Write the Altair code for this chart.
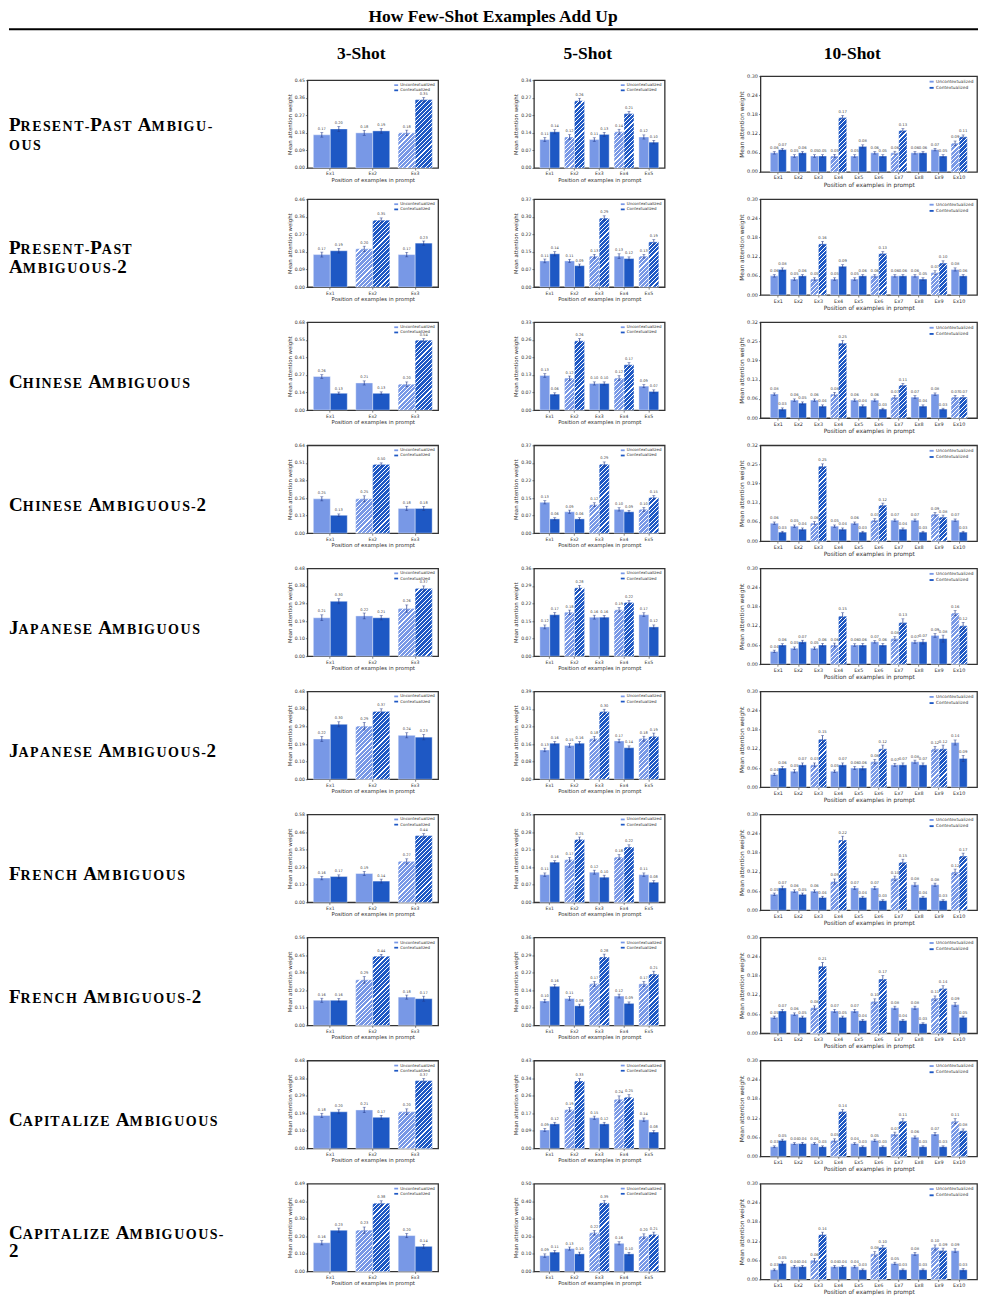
import json
import altair as alt
import pandas as pd

# ---------------------------------------------------------------- text
TITLE = "How Few-Shot Examples Add Up"
SHOT_HEADERS = ["3-Shot", "5-Shot", "10-Shot"]
SHOTS = [3, 5, 10]
ROW_LABELS = [
    ["Present-Past Ambigu-", "ous"],
    ["Present-Past", "Ambiguous-2"],
    ["Chinese Ambiguous"],
    ["Chinese Ambiguous-2"],
    ["Japanese Ambiguous"],
    ["Japanese Ambiguous-2"],
    ["French Ambiguous"],
    ["French Ambiguous-2"],
    ["Capitalize Ambiguous"],
    ["Capitalize Ambiguous-", "2"],
]
SERIES = ["Uncontextualized", "Contextualized"]
X_TITLE = "Position of examples in prompt"
Y_TITLE = "Mean attention weight"

# ---------------------------------------------------------------- 3-shot
TICKS_3 = [
    ["0.00", "0.09", "0.18", "0.27", "0.36", "0.45"],
    ["0.00", "0.09", "0.18", "0.27", "0.36", "0.46"],
    ["0.00", "0.14", "0.27", "0.41", "0.55", "0.68"],
    ["0.00", "0.13", "0.26", "0.38", "0.51", "0.64"],
    ["0.00", "0.10", "0.19", "0.29", "0.38", "0.48"],
    ["0.00", "0.10", "0.19", "0.29", "0.38", "0.48"],
    ["0.00", "0.12", "0.23", "0.35", "0.46", "0.58"],
    ["0.00", "0.11", "0.22", "0.34", "0.45", "0.56"],
    ["0.00", "0.10", "0.19", "0.29", "0.38", "0.48"],
    ["0.00", "0.10", "0.20", "0.30", "0.40", "0.49"],
]
HATCH_3 = [[3], [2], [3], [2], [3], [2], [3], [2], [3], [2]]
UNCTX_3 = [
    [0.17, 0.18, 0.18],
    [0.17, 0.20, 0.17],
    [0.26, 0.21, 0.20],
    [0.25, 0.25, 0.18],
    [0.21, 0.22, 0.26],
    [0.22, 0.29, 0.24],
    [0.16, 0.19, 0.27],
    [0.16, 0.29, 0.18],
    [0.18, 0.21, 0.20],
    [0.16, 0.23, 0.20],
]
CTX_3 = [
    [0.20, 0.19, 0.35],
    [0.19, 0.35, 0.23],
    [0.13, 0.13, 0.54],
    [0.13, 0.50, 0.18],
    [0.30, 0.21, 0.37],
    [0.30, 0.37, 0.23],
    [0.17, 0.14, 0.44],
    [0.16, 0.44, 0.17],
    [0.20, 0.17, 0.37],
    [0.23, 0.38, 0.14],
]
ERR_U_3 = [
    [0.012, 0.013, 0.014],
    [0.013, 0.014, 0.012],
    [0.014, 0.016, 0.018],
    [0.015, 0.022, 0.016],
    [0.016, 0.016, 0.020],
    [0.014, 0.021, 0.014],
    [0.012, 0.014, 0.017],
    [0.013, 0.021, 0.013],
    [0.012, 0.015, 0.016],
    [0.012, 0.018, 0.012],
]
ERR_C_3 = [
    [0.013, 0.012, 0.011],
    [0.012, 0.012, 0.011],
    [0.010, 0.011, 0.013],
    [0.010, 0.012, 0.015],
    [0.014, 0.012, 0.014],
    [0.014, 0.015, 0.015],
    [0.011, 0.013, 0.013],
    [0.011, 0.013, 0.016],
    [0.011, 0.011, 0.012],
    [0.012, 0.014, 0.011],
]

# ---------------------------------------------------------------- 5-shot
TICKS_5 = [
    ["0.00", "0.07", "0.14", "0.20", "0.27", "0.34"],
    ["0.00", "0.07", "0.15", "0.22", "0.30", "0.37"],
    ["0.00", "0.07", "0.13", "0.20", "0.26", "0.33"],
    ["0.00", "0.07", "0.15", "0.22", "0.30", "0.37"],
    ["0.00", "0.07", "0.15", "0.22", "0.29", "0.36"],
    ["0.00", "0.08", "0.16", "0.23", "0.31", "0.39"],
    ["0.00", "0.07", "0.14", "0.21", "0.28", "0.35"],
    ["0.00", "0.07", "0.14", "0.22", "0.29", "0.36"],
    ["0.00", "0.09", "0.17", "0.26", "0.34", "0.43"],
    ["0.00", "0.10", "0.20", "0.30", "0.40", "0.50"],
]
HATCH_5 = [[2, 4], [3, 5], [2, 4], [3, 5], [2, 4], [3, 5], [2, 4], [3, 5], [2, 4], [3, 5]]
UNCTX_5 = [
    [0.11, 0.12, 0.11, 0.14, 0.12],
    [0.11, 0.11, 0.13, 0.13, 0.13],
    [0.13, 0.12, 0.10, 0.12, 0.09],
    [0.13, 0.09, 0.12, 0.10, 0.10],
    [0.12, 0.18, 0.16, 0.19, 0.17],
    [0.13, 0.15, 0.18, 0.17, 0.18],
    [0.11, 0.17, 0.12, 0.18, 0.11],
    [0.10, 0.11, 0.17, 0.12, 0.17],
    [0.09, 0.19, 0.15, 0.24, 0.14],
    [0.09, 0.13, 0.22, 0.16, 0.20],
]
CTX_5 = [
    [0.14, 0.26, 0.13, 0.21, 0.10],
    [0.14, 0.09, 0.29, 0.12, 0.19],
    [0.06, 0.26, 0.10, 0.17, 0.07],
    [0.06, 0.06, 0.29, 0.09, 0.15],
    [0.17, 0.28, 0.16, 0.22, 0.12],
    [0.16, 0.16, 0.30, 0.14, 0.19],
    [0.16, 0.25, 0.10, 0.22, 0.08],
    [0.16, 0.08, 0.28, 0.09, 0.21],
    [0.12, 0.33, 0.12, 0.25, 0.08],
    [0.11, 0.10, 0.39, 0.10, 0.21],
]
ERR_U_5 = [
    [0.008, 0.009, 0.007, 0.010, 0.008],
    [0.008, 0.007, 0.008, 0.010, 0.008],
    [0.007, 0.008, 0.006, 0.009, 0.006],
    [0.007, 0.007, 0.008, 0.007, 0.008],
    [0.008, 0.009, 0.008, 0.009, 0.008],
    [0.008, 0.008, 0.010, 0.008, 0.011],
    [0.007, 0.009, 0.008, 0.010, 0.007],
    [0.007, 0.008, 0.010, 0.008, 0.010],
    [0.008, 0.010, 0.008, 0.017, 0.009],
    [0.010, 0.009, 0.013, 0.009, 0.014],
]
ERR_C_5 = [
    [0.008, 0.010, 0.008, 0.009, 0.007],
    [0.009, 0.007, 0.010, 0.007, 0.010],
    [0.005, 0.009, 0.006, 0.008, 0.006],
    [0.005, 0.005, 0.010, 0.006, 0.008],
    [0.009, 0.010, 0.007, 0.008, 0.008],
    [0.008, 0.008, 0.011, 0.008, 0.015],
    [0.006, 0.010, 0.008, 0.009, 0.006],
    [0.007, 0.007, 0.012, 0.006, 0.012],
    [0.008, 0.012, 0.008, 0.013, 0.007],
    [0.010, 0.010, 0.014, 0.009, 0.014],
]

# ---------------------------------------------------------------- 10-shot
TICKS_10 = [
    ["0.00", "0.06", "0.12", "0.18", "0.24", "0.30"],
    ["0.00", "0.06", "0.12", "0.18", "0.24", "0.30"],
    ["0.00", "0.06", "0.13", "0.19", "0.25", "0.32"],
    ["0.00", "0.06", "0.13", "0.19", "0.25", "0.32"],
    ["0.00", "0.06", "0.12", "0.18", "0.24", "0.30"],
    ["0.00", "0.06", "0.12", "0.18", "0.24", "0.30"],
    ["0.00", "0.06", "0.12", "0.18", "0.24", "0.30"],
    ["0.00", "0.06", "0.12", "0.18", "0.24", "0.30"],
    ["0.00", "0.06", "0.12", "0.18", "0.24", "0.30"],
    ["0.00", "0.06", "0.12", "0.18", "0.24", "0.30"],
]
HATCH_10 = [[4, 7, 10], [3, 6, 9], [4, 7, 10], [3, 6, 9], [4, 7, 10],
            [3, 6, 9], [4, 7, 10], [3, 6, 9], [4, 7, 10], [3, 6, 9]]
UNCTX_10 = [
    [0.06, 0.05, 0.05, 0.05, 0.05, 0.06, 0.06, 0.06, 0.07, 0.09],
    [0.06, 0.05, 0.05, 0.05, 0.05, 0.06, 0.06, 0.06, 0.07, 0.08],
    [0.08, 0.06, 0.06, 0.08, 0.06, 0.06, 0.07, 0.07, 0.08, 0.07],
    [0.06, 0.05, 0.06, 0.05, 0.06, 0.07, 0.07, 0.07, 0.09, 0.07],
    [0.04, 0.05, 0.05, 0.06, 0.06, 0.07, 0.08, 0.07, 0.09, 0.16],
    [0.04, 0.05, 0.07, 0.05, 0.06, 0.08, 0.07, 0.08, 0.12, 0.14],
    [0.05, 0.06, 0.06, 0.09, 0.07, 0.07, 0.10, 0.08, 0.08, 0.12],
    [0.05, 0.06, 0.08, 0.07, 0.07, 0.10, 0.08, 0.08, 0.11, 0.09],
    [0.03, 0.04, 0.04, 0.05, 0.04, 0.05, 0.07, 0.06, 0.07, 0.11],
    [0.03, 0.04, 0.06, 0.04, 0.04, 0.08, 0.05, 0.08, 0.10, 0.09],
]
CTX_10 = [
    [0.07, 0.06, 0.05, 0.17, 0.08, 0.05, 0.13, 0.06, 0.05, 0.11],
    [0.08, 0.06, 0.16, 0.09, 0.06, 0.13, 0.06, 0.05, 0.10, 0.06],
    [0.03, 0.05, 0.04, 0.25, 0.04, 0.03, 0.11, 0.04, 0.03, 0.07],
    [0.03, 0.04, 0.25, 0.04, 0.03, 0.12, 0.04, 0.03, 0.08, 0.03],
    [0.06, 0.07, 0.06, 0.15, 0.06, 0.06, 0.13, 0.07, 0.08, 0.12],
    [0.06, 0.07, 0.15, 0.07, 0.06, 0.12, 0.07, 0.07, 0.12, 0.09],
    [0.07, 0.05, 0.04, 0.22, 0.04, 0.03, 0.15, 0.04, 0.03, 0.17],
    [0.07, 0.05, 0.21, 0.05, 0.04, 0.17, 0.04, 0.03, 0.14, 0.05],
    [0.05, 0.04, 0.03, 0.14, 0.03, 0.03, 0.11, 0.03, 0.03, 0.08],
    [0.05, 0.04, 0.14, 0.04, 0.03, 0.10, 0.03, 0.03, 0.09, 0.03],
]
ERR_U_10 = [
    [0.004, 0.004, 0.004, 0.005, 0.004, 0.004, 0.005, 0.004, 0.004, 0.007],
    [0.004, 0.004, 0.004, 0.004, 0.004, 0.004, 0.004, 0.004, 0.006, 0.005],
    [0.004, 0.004, 0.004, 0.006, 0.004, 0.004, 0.006, 0.005, 0.004, 0.006],
    [0.004, 0.004, 0.005, 0.004, 0.004, 0.005, 0.004, 0.004, 0.006, 0.004],
    [0.004, 0.004, 0.004, 0.006, 0.004, 0.004, 0.006, 0.005, 0.006, 0.008],
    [0.004, 0.005, 0.006, 0.004, 0.005, 0.007, 0.005, 0.005, 0.008, 0.008],
    [0.004, 0.004, 0.004, 0.008, 0.005, 0.005, 0.007, 0.006, 0.005, 0.009],
    [0.004, 0.004, 0.006, 0.005, 0.005, 0.008, 0.005, 0.005, 0.007, 0.006],
    [0.003, 0.003, 0.003, 0.005, 0.003, 0.004, 0.006, 0.004, 0.005, 0.008],
    [0.003, 0.004, 0.006, 0.004, 0.004, 0.007, 0.004, 0.005, 0.008, 0.006],
]
ERR_C_10 = [
    [0.004, 0.004, 0.004, 0.007, 0.005, 0.004, 0.006, 0.004, 0.004, 0.006],
    [0.005, 0.004, 0.008, 0.005, 0.004, 0.006, 0.004, 0.004, 0.007, 0.004],
    [0.004, 0.004, 0.004, 0.009, 0.004, 0.003, 0.006, 0.004, 0.003, 0.006],
    [0.003, 0.004, 0.008, 0.004, 0.003, 0.007, 0.004, 0.003, 0.007, 0.003],
    [0.004, 0.005, 0.005, 0.011, 0.005, 0.005, 0.012, 0.007, 0.011, 0.011],
    [0.005, 0.006, 0.012, 0.006, 0.006, 0.012, 0.006, 0.006, 0.012, 0.010],
    [0.006, 0.004, 0.004, 0.012, 0.004, 0.003, 0.010, 0.004, 0.003, 0.009],
    [0.005, 0.004, 0.012, 0.004, 0.004, 0.011, 0.004, 0.003, 0.009, 0.004],
    [0.004, 0.004, 0.003, 0.007, 0.003, 0.003, 0.008, 0.003, 0.003, 0.006],
    [0.005, 0.004, 0.008, 0.004, 0.003, 0.007, 0.003, 0.003, 0.008, 0.004],
]

PANELS = {
    3: dict(ticks=TICKS_3, hatch=HATCH_3, u=UNCTX_3, c=CTX_3, eu=ERR_U_3, ec=ERR_C_3),
    5: dict(ticks=TICKS_5, hatch=HATCH_5, u=UNCTX_5, c=CTX_5, eu=ERR_U_5, ec=ERR_C_5),
    10: dict(ticks=TICKS_10, hatch=HATCH_10, u=UNCTX_10, c=CTX_10, eu=ERR_U_10, ec=ERR_C_10),
}

# ---------------------------------------------------------------- style & layout
LIGHT = "#7898E6"
DARK = "#1E58C4"
ERR_COLOR = "#22398A"
INK = "#333333"
SERIF = "Liberation Serif"
SANS = "DejaVu Sans"

LABEL_W = 203
COL_GAP = 96
ROW_GAP = 27.3
ROW_H = 96
HEADER_H = 60
HEADER_GAP = 14
PW = {3: 131, 5: 131, 10: 217}
PH = {3: 88, 5: 88, 10: 96}
FONT = {
    3: dict(tick=4.6, title=5.4, legend=4.0, value=3.6, sym=15),
    5: dict(tick=4.6, title=5.4, legend=4.0, value=3.6, sym=15),
    10: dict(tick=4.9, title=5.9, legend=4.3, value=3.8, sym=17),
}
HEADER_SHIFT = {3: 11.5, 5: 11.5, 10: 16.5}

# Times-Bold advance widths (per 1000 em) for the small-caps row labels
TIMES_BOLD = {
    "A": 722, "B": 667, "C": 722, "D": 722, "E": 667, "F": 611, "G": 778, "H": 778,
    "I": 389, "J": 500, "K": 778, "L": 667, "M": 944, "N": 722, "O": 778, "P": 611,
    "Q": 778, "R": 722, "S": 556, "T": 667, "U": 722, "V": 722, "W": 1000, "X": 722,
    "Y": 722, "Z": 667, "-": 333, " ": 250, "2": 500,
}
CAP_SIZE = 19
SC_SIZE = 14
SC_TRACK = 1.15


def hatch_fill(color, w, h, period=4.3, line=1.1):
    """Diagonal '/' stripes as a hard-stop linear gradient in bounding-box units."""
    L = w + h
    k = L / (w * w + h * h)
    stops = []
    s = 0.0
    while s < L - 1e-6:
        a = round(s / L, 5)
        b = round(min(s + line, L) / L, 5)
        e = round(min(s + period, L) / L, 5)
        stops += [
            {"offset": a, "color": "white"},
            {"offset": b, "color": "white"},
            {"offset": b, "color": color},
            {"offset": e, "color": color},
        ]
        s += period
    return {"gradient": "linear", "x1": 0, "y1": 0,
            "x2": round(w * k, 5), "y2": round(h * k, 5), "stops": stops}


def panel(ri, shot):
    p = PANELS[shot]
    ticks = p["ticks"][ri]
    ymax = float(ticks[-1])
    n = shot
    W, H = PW[shot], PH[shot]
    f = FONT[shot]
    po = 0.05 * (n - 0.2)
    exs = [f"Ex{i + 1}" for i in range(n)]
    u, c = p["u"][ri], p["c"][ri]
    eu, ec = p["eu"][ri], p["ec"][ri]

    recs = []
    for i, ex in enumerate(exs):
        for s, v, e in ((SERIES[0], u[i], eu[i]), (SERIES[1], c[i], ec[i])):
            recs.append({"ex": ex, "series": s, "v": v, "lo": v - e, "hi": v + e,
                         "lbl": f"{v:.2f}", "key": f"{ex}|{s}"})
    df = pd.DataFrame(recs)

    step = ymax / 5
    tick_vals = [round(step * i, 6) for i in range(6)]
    label_expr = f"{json.dumps(ticks)}[round(datum.value / {step})]"

    x = alt.X("ex:N", sort=exs,
              scale=alt.Scale(paddingInner=0.2, paddingOuter=po),
              axis=alt.Axis(title=X_TITLE, labelAngle=0, labelFontSize=f["tick"],
                            titleFontSize=f["title"], tickSize=2, labelPadding=1,
                            titlePadding=1.5))
    xo = alt.XOffset("series:N", sort=SERIES,
                     scale=alt.Scale(paddingInner=0, paddingOuter=0))
    yscale = alt.Scale(domain=[0, ymax], nice=False, zero=True)
    yaxis = alt.Axis(title=Y_TITLE, values=tick_vals, labelExpr=label_expr,
                     labelFontSize=f["tick"], titleFontSize=f["title"], tickSize=2,
                     labelPadding=1, titlePadding=2)

    base = alt.Chart(df).encode(x=x, xOffset=xo)

    bars = base.mark_bar(stroke="white", strokeWidth=0.4).encode(
        y=alt.Y("v:Q", scale=yscale, axis=yaxis),
        color=alt.Color(
            "series:N", sort=SERIES,
            scale=alt.Scale(domain=SERIES, range=[LIGHT, DARK]),
            legend=alt.Legend(
                title=None, orient="top-right", offset=2, padding=1,
                labelFontSize=f["legend"], labelFont=SANS, labelColor=INK,
                labelOffset=2, rowPadding=1.2,
                symbolType="M-1,-0.45L1,-0.45L1,0.45L-1,0.45Z",
                symbolSize=f["sym"], symbolStrokeWidth=0,
            ),
        ),
    )

    # hatched bars for the ambiguous examples
    step_px = W / (n - 0.2 + 2 * po)
    bw = 0.4 * step_px
    conds, keys = [], []
    for k in p["hatch"][ri]:
        ex = f"Ex{k}"
        for s, vals, col in ((SERIES[0], u, LIGHT), (SERIES[1], c, DARK)):
            h = vals[k - 1] / ymax * H
            key = f"{ex}|{s}"
            keys.append(key)
            conds.append({"test": f"datum.key === '{key}'",
                          "value": hatch_fill(col, bw, h)})
    hatched = base.transform_filter(
        alt.FieldOneOfPredicate(field="key", oneOf=keys)
    ).mark_bar(stroke="white", strokeWidth=0.4).encode(
        y=alt.Y("v:Q", scale=yscale, axis=yaxis),
        fill={"condition": conds, "value": "transparent"},
    )

    err = base.mark_rule(color=ERR_COLOR, strokeWidth=0.7).encode(
        y=alt.Y("lo:Q", scale=yscale, axis=yaxis), y2="hi:Q")
    cap_hi = base.mark_tick(color=ERR_COLOR, thickness=0.6, size=3).encode(
        y=alt.Y("hi:Q", scale=yscale, axis=yaxis))
    cap_lo = base.mark_tick(color=ERR_COLOR, thickness=0.6, size=3).encode(
        y=alt.Y("lo:Q", scale=yscale, axis=yaxis))
    values = base.mark_text(fontSize=f["value"], color="#444444", baseline="bottom",
                            dy=-1.5, font=SANS).encode(
        y=alt.Y("hi:Q", scale=yscale, axis=yaxis), text="lbl:N")

    return alt.layer(bars, hatched, err, cap_hi, cap_lo, values).properties(
        width=W, height=H)


def row_label(ri):
    lines = ROW_LABELS[ri]
    mid = ROW_H / 2
    ys = [mid + 18] if len(lines) == 1 else [mid + 7, mid + 26]
    recs = []
    for line, y in zip(lines, ys):
        xpos = 0.0
        for ch in line:
            if ch == " ":
                xpos += TIMES_BOLD[" "] * CAP_SIZE / 1000
                continue
            if ch.islower() or ch == "-":
                size = SC_SIZE
                adv = TIMES_BOLD[ch.upper()] * SC_SIZE * SC_TRACK / 1000
            else:
                size = CAP_SIZE
                adv = TIMES_BOLD[ch] * CAP_SIZE / 1000
            recs.append({"ch": ch.upper(), "x": round(xpos, 2), "y": y, "fs": size})
            xpos += adv
    df = pd.DataFrame(recs)
    return alt.Chart(df).mark_text(
        align="left", baseline="alphabetic", font=SERIF, fontWeight="bold",
        color="black",
    ).encode(
        x=alt.X("x:Q", scale=alt.Scale(domain=[0, LABEL_W], range=[0, LABEL_W], nice=False),
                axis=None),
        y=alt.Y("y:Q", scale=alt.Scale(domain=[0, ROW_H], range=[0, ROW_H], nice=False),
                axis=None),
        text="ch:N",
        size=alt.Size("fs:Q", scale=None, legend=None),
    ).properties(width=LABEL_W, height=ROW_H,
                 view=alt.ViewBackground(stroke="transparent"))


# ---------------------------------------------------------------- header
TOTAL_W = LABEL_W + 3 * COL_GAP + PW[3] + PW[5] + PW[10]
col_left = {}
xcur = LABEL_W + COL_GAP
for shot in SHOTS:
    col_left[shot] = xcur
    xcur += PW[shot] + COL_GAP
hdr = pd.DataFrame({
    "t": SHOT_HEADERS,
    "x": [col_left[s] + PW[s] / 2 - HEADER_SHIFT[s] for s in SHOTS],
})
one = pd.DataFrame({"t": [TITLE]})
title_mark = alt.Chart(one).mark_text(
    font=SERIF, fontWeight="bold", fontSize=17.5, baseline="alphabetic", align="center",
    color="black",
).encode(text="t:N", x=alt.value(TOTAL_W / 2), y=alt.value(20))
rule_mark = alt.Chart(one).mark_rule(color="black", strokeWidth=2).encode(
    x=alt.value(0), x2=alt.value(TOTAL_W + 1), y=alt.value(27))
shot_marks = alt.Chart(hdr).mark_text(
    font=SERIF, fontWeight="bold", fontSize=17.5, baseline="alphabetic", align="center",
    color="black",
).encode(
    text="t:N",
    x=alt.X("x:Q", scale=alt.Scale(domain=[0, TOTAL_W], range=[0, TOTAL_W], nice=False),
            axis=None),
    y=alt.value(57),
)
header = alt.layer(title_mark, rule_mark, shot_marks).properties(
    width=TOTAL_W, height=HEADER_H, view=alt.ViewBackground(stroke="transparent"))

# ---------------------------------------------------------------- grid
cells = []
for ri in range(len(ROW_LABELS)):
    cells.append(row_label(ri))
    for shot in SHOTS:
        cells.append(panel(ri, shot))

grid = alt.concat(
    *cells, columns=4, spacing={"row": ROW_GAP, "column": COL_GAP},
    bounds="flush", center=True,
).resolve_scale(color="independent", xOffset="independent",
                x="independent", y="independent")

chart = alt.vconcat(header, grid, spacing=HEADER_GAP, bounds="flush").resolve_scale(
    color="independent", xOffset="independent"
).properties(
    padding={"left": 7, "top": 0, "right": 5, "bottom": 4},
    background="white",
).configure_view(
    stroke=INK, strokeWidth=1.3,
).configure_axis(
    labelFont=SANS, titleFont=SANS, titleFontWeight="normal",
    labelColor=INK, titleColor=INK, tickColor=INK, tickWidth=0.6,
    domain=False, grid=False,
)

chart.save("out.html", embed_options={"renderer": "svg", "actions": False})
